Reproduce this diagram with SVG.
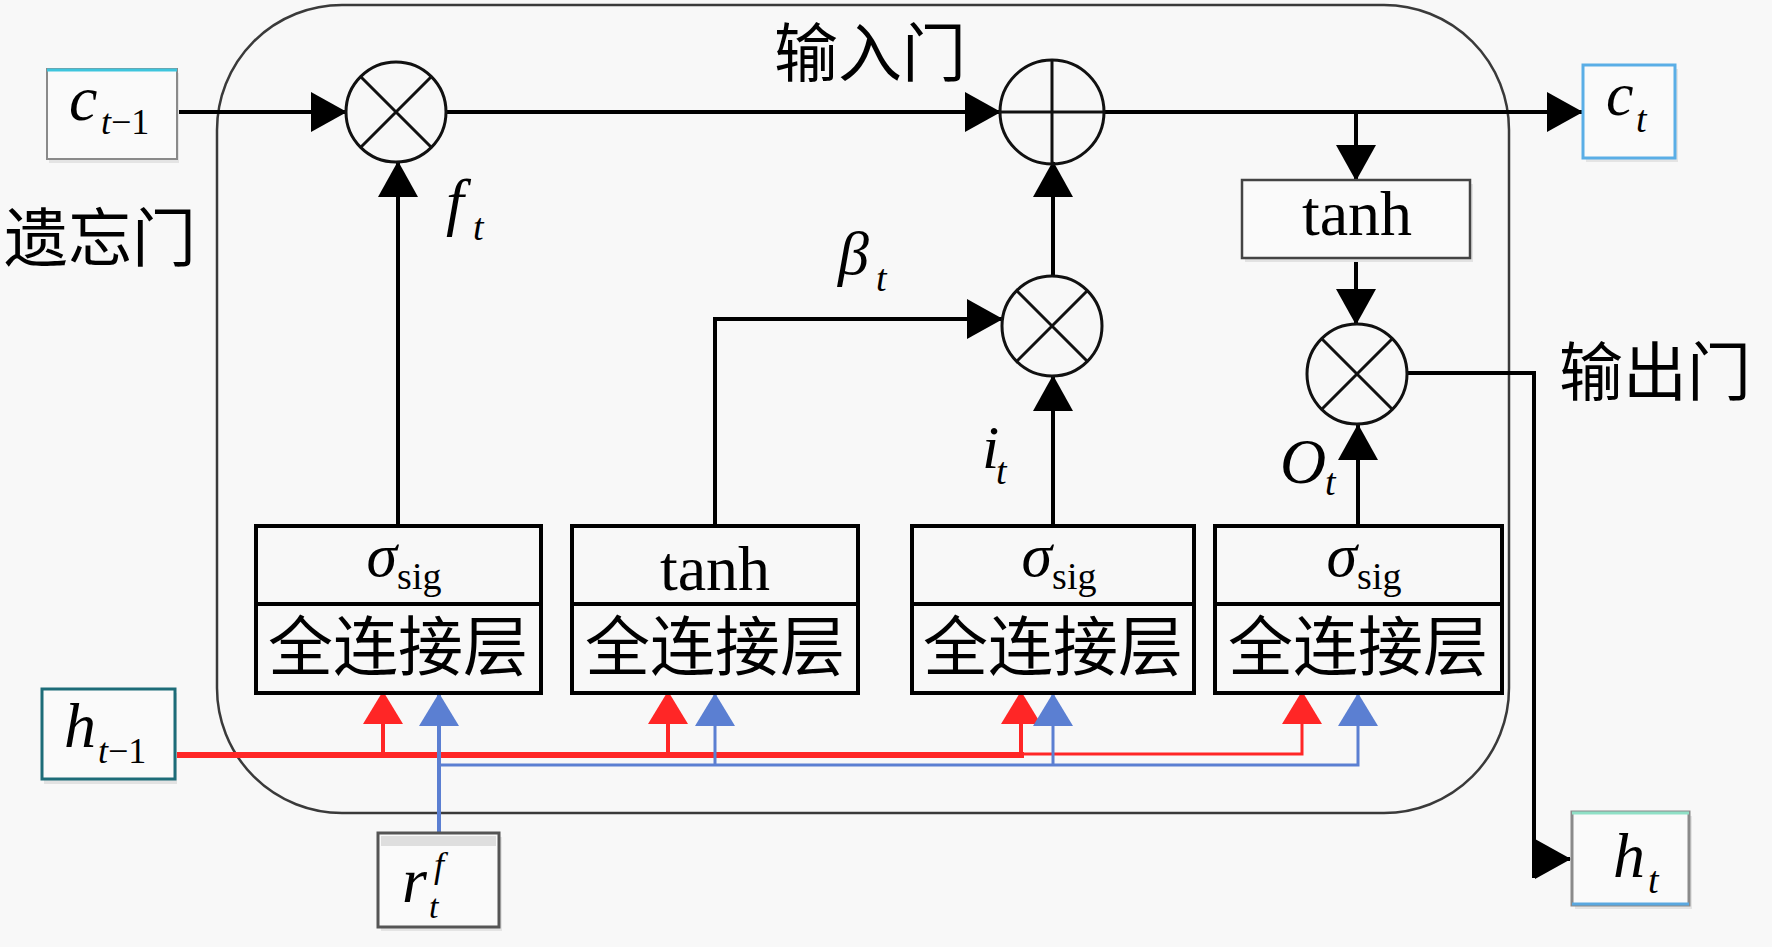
<svg xmlns="http://www.w3.org/2000/svg" width="1772" height="947" viewBox="0 0 1772 947">
<style>
  .conn{stroke:#000;stroke-width:4;fill:none}
  .red{stroke:#ff2626;fill:none}
  .blue{stroke:#5b7fd2;fill:none}
  .gate{fill:none;stroke:#000;stroke-width:4}
  .op{fill:none;stroke:#111;stroke-width:3}
  .math{font-family:'Liberation Serif',serif;fill:#000}
  .it{font-style:italic}
  .cjk{font-family:'Liberation Serif','Noto Sans CJK SC',sans-serif;fill:#000}
  .sub{font-size:38px}
</style>
<defs>
  <marker id="ah" markerUnits="userSpaceOnUse" viewBox="0 0 36 40" markerWidth="36" markerHeight="40" refX="35" refY="20" orient="auto">
    <path d="M0,0 L36,20 L0,40 Z" fill="#000"/>
  </marker>
  <marker id="ahr" markerUnits="userSpaceOnUse" viewBox="0 0 33 40" markerWidth="33" markerHeight="40" refX="32" refY="20" orient="auto">
    <path d="M0,0 L33,20 L0,40 Z" fill="#ff2626"/>
  </marker>
  <marker id="ahb" markerUnits="userSpaceOnUse" viewBox="0 0 33 40" markerWidth="33" markerHeight="40" refX="32" refY="20" orient="auto">
    <path d="M0,0 L33,20 L0,40 Z" fill="#5b7fd2"/>
  </marker>
</defs>
<rect width="1772" height="947" fill="#f8f8f8"/>

<g id="cell">
  <rect x="217" y="5" width="1292" height="808" rx="125" ry="125" fill="none" stroke="#3a3a3a" stroke-width="2.5"/>
</g>

<g id="labels">
  <text class="cjk" x="774" y="76" font-size="64">输入门</text>
  <text class="cjk" x="4" y="261" font-size="64">遗忘门</text>
  <text class="cjk" x="1559" y="395" font-size="64">输出门</text>
  <text class="math it" x="446" y="223" font-size="64">f<tspan class="sub" x="473" y="240">t</tspan></text>
  <text class="math it" x="838" y="274" font-size="62">β<tspan class="sub" x="876" y="291">t</tspan></text>
  <text class="math it" x="982" y="468" font-size="62">i<tspan class="sub" x="996" y="484">t</tspan></text>
  <text class="math it" x="1280" y="483" font-size="64">O<tspan class="sub" x="1325" y="495">t</tspan></text>
</g>

<g id="connectors">
  <path class="conn" d="M177,112 H346" marker-end="url(#ah)"/>
  <path class="conn" d="M446,112 H1000" marker-end="url(#ah)"/>
  <path class="conn" d="M1103,112 H1582" marker-end="url(#ah)"/>
  <path class="conn" d="M1356,112 V180" marker-end="url(#ah)"/>
  <path class="conn" d="M1356,258 V324" marker-end="url(#ah)"/>
  <path class="conn" d="M1407,373 H1534 V878"/>
  <path class="conn" d="M1534,859 H1570" marker-end="url(#ah)"/>
  <path class="conn" d="M398,526 V162" marker-end="url(#ah)"/>
  <path class="conn" d="M715,526 V319 H1002" marker-end="url(#ah)"/>
  <path class="conn" d="M1053,526 V376" marker-end="url(#ah)"/>
  <path class="conn" d="M1053,276 V162" marker-end="url(#ah)"/>
  <path class="conn" d="M1358,526 V425" marker-end="url(#ah)"/>
  <path class="red" stroke-width="6" d="M175,755 H1024"/>
  <path class="red" stroke-width="3" d="M1021,754 H1302 V692" marker-end="url(#ahr)"/>
  <path class="red" stroke-width="4" d="M383,755 V692" marker-end="url(#ahr)"/>
  <path class="red" stroke-width="4" d="M668,755 V692" marker-end="url(#ahr)"/>
  <path class="red" stroke-width="4" d="M1021,755 V692" marker-end="url(#ahr)"/>
  <path class="blue" stroke-width="3" d="M439,765 H1358 V694" marker-end="url(#ahb)"/>
  <path class="blue" stroke-width="4" d="M439,833 V694" marker-end="url(#ahb)"/>
  <path class="blue" stroke-width="3" d="M715,765 V694" marker-end="url(#ahb)"/>
  <path class="blue" stroke-width="3" d="M1053,765 V694" marker-end="url(#ahb)"/>
</g>

<g id="c_prev">
  <rect x="49" y="73" width="130" height="90" fill="#e4e4e4"/>
  <rect x="47" y="69" width="130" height="90" fill="#fafafa" stroke="#8a8a8a" stroke-width="2"/>
  <line x1="47" y1="70" x2="177" y2="70" stroke="#3ec5dd" stroke-width="3"/>
  <text class="math it" x="69" y="120" font-size="64">c<tspan font-size="36" x="101" y="134">t</tspan><tspan font-size="36" style="font-style:normal" x="111" y="134">−1</tspan></text>
</g>

<g id="c_t">
  <rect x="1586" y="69" width="92" height="93" fill="#e4e4e4"/>
  <rect x="1583" y="65" width="92" height="93" fill="#fafafa" stroke="#5aaee6" stroke-width="3"/>
  <text class="math it" x="1606" y="115" font-size="62">c<tspan class="sub" x="1636" y="132">t</tspan></text>
</g>

<g id="h_prev">
  <rect x="44" y="693" width="133" height="91" fill="#e2e2e2"/>
  <rect x="42" y="689" width="133" height="90" fill="#fafafa" stroke="#1d6c78" stroke-width="3"/>
  <text class="math it" x="64" y="747" font-size="64">h<tspan font-size="36" x="98" y="763">t</tspan><tspan font-size="36" style="font-style:normal" x="108" y="763">−1</tspan></text>
</g>

<g id="h_t">
  <rect x="1575" y="816" width="117" height="93" fill="#e4e4e4"/>
  <rect x="1572" y="812" width="117" height="93" fill="#fafafa" stroke="#8a8a8a" stroke-width="3"/>
  <line x1="1572" y1="813" x2="1689" y2="813" stroke="#8fe0c6" stroke-width="3"/>
  <line x1="1572" y1="904" x2="1689" y2="904" stroke="#5aa8e0" stroke-width="3"/>
  <text class="math it" x="1613" y="877" font-size="64">h<tspan class="sub" x="1648" y="893">t</tspan></text>
</g>

<g id="r_f">
  <rect x="381" y="837" width="121" height="94" fill="#e4e4e4"/>
  <rect x="378" y="833" width="121" height="94" fill="#fafafa" stroke="#555" stroke-width="3"/>
  <rect x="381" y="836" width="115" height="10" fill="#dedede"/>
  <text class="math it" x="402" y="902" font-size="64">r</text>
  <text class="math it" x="434" y="877" font-size="36">f</text>
  <text class="math it" x="429" y="918" font-size="34">t</text>
</g>

<g id="mul_f">
  <circle class="op" cx="396" cy="112" r="50"/>
  <path class="op" stroke-width="2.5" d="M361,77 L431,147 M431,77 L361,147"/>
</g>

<g id="add_c">
  <circle class="op" cx="1052" cy="112" r="52"/>
  <path class="op" stroke-width="2.5" d="M1000,112 H1104 M1052,60 V164"/>
</g>

<g id="mul_i">
  <circle class="op" cx="1052" cy="326" r="50"/>
  <path class="op" stroke-width="2.5" d="M1017,291 L1087,361 M1087,291 L1017,361"/>
</g>

<g id="mul_o">
  <circle class="op" cx="1357" cy="374" r="50"/>
  <path class="op" stroke-width="2.5" d="M1322,339 L1392,409 M1392,339 L1322,409"/>
</g>

<g id="tanh_c">
  <rect x="1245" y="184" width="228" height="78" fill="#e2e2e2"/>
  <rect x="1242" y="180" width="228" height="78" fill="#fafafa" stroke="#444" stroke-width="2.5"/>
  <text class="math" x="1357" y="235" font-size="64" text-anchor="middle">tanh</text>
</g>

<g id="gate_f">
  <rect class="gate" x="256" y="526" width="285" height="167"/>
  <line class="gate" x1="256" y1="604" x2="541" y2="604"/>
  <text class="math" x="404" y="576" font-size="62" text-anchor="middle"><tspan class="it">σ</tspan><tspan font-size="38" dy="13">sig</tspan></text>
  <text class="cjk" x="398" y="670" font-size="65" text-anchor="middle">全连接层</text>
</g>

<g id="gate_beta">
  <rect class="gate" x="572" y="526" width="286" height="167"/>
  <line class="gate" x1="572" y1="604" x2="858" y2="604"/>
  <text class="math" x="715" y="590" font-size="64" text-anchor="middle">tanh</text>
  <text class="cjk" x="715" y="670" font-size="65" text-anchor="middle">全连接层</text>
</g>

<g id="gate_i">
  <rect class="gate" x="912" y="526" width="282" height="167"/>
  <line class="gate" x1="912" y1="604" x2="1194" y2="604"/>
  <text class="math" x="1059" y="576" font-size="62" text-anchor="middle"><tspan class="it">σ</tspan><tspan font-size="38" dy="13">sig</tspan></text>
  <text class="cjk" x="1053" y="670" font-size="65" text-anchor="middle">全连接层</text>
</g>

<g id="gate_o">
  <rect class="gate" x="1215" y="526" width="287" height="167"/>
  <line class="gate" x1="1215" y1="604" x2="1502" y2="604"/>
  <text class="math" x="1364" y="576" font-size="62" text-anchor="middle"><tspan class="it">σ</tspan><tspan font-size="38" dy="13">sig</tspan></text>
  <text class="cjk" x="1358" y="670" font-size="65" text-anchor="middle">全连接层</text>
</g>
</svg>
